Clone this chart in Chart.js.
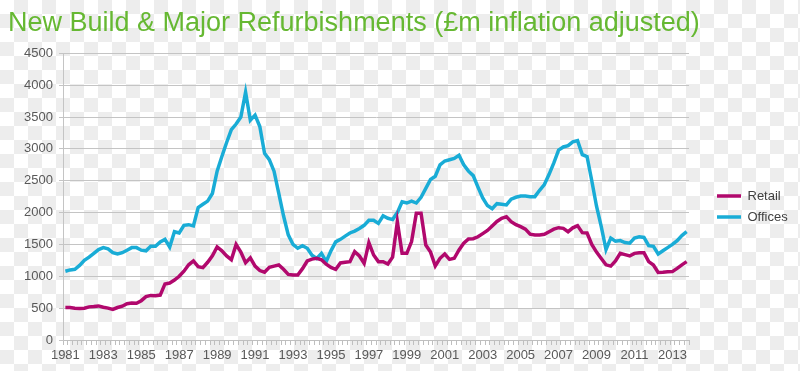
<!DOCTYPE html>
<html>
<head>
<meta charset="utf-8">
<script src="https://cdn.jsdelivr.net/npm/chart.js@4"></script>
<style>
  html, body { margin: 0; padding: 0; background: #ffffff; }
  #wrap {
    position: relative; width: 800px; height: 371px;
    background-color: #ffffff;
    background-image:
      linear-gradient(45deg, #ededed 25%, transparent 25%),
      linear-gradient(-45deg, #ededed 25%, transparent 25%),
      linear-gradient(45deg, transparent 75%, #ededed 75%),
      linear-gradient(-45deg, transparent 75%, #ededed 75%);
    background-size: 28px 28px;
    background-position: 0 0, 0 14px, 14px -14px, -14px 0;
  }
</style>
</head>
<body>
<div id="wrap"><canvas id="chart"></canvas></div>
<script>
// quarterly values, 1981 Q1 .. 2013 Q4
const firstYear = 1981;
const lastYear = 2013;
const tickYears = ['1981', '1983', '1985', '1987', '1989', '1991', '1993', '1995', '1997',
    '1999', '2001', '2003', '2005', '2007', '2009', '2011', '2013'];

const retail = [
    510, 510, 500, 495, 500, 520, 525, 535, 515, 500,
    480, 510, 530, 570, 580, 576, 617, 680, 700, 695,
    705, 880, 895, 940, 1000, 1080, 1180, 1240, 1150, 1136,
    1220, 1320, 1460, 1400, 1320, 1260, 1500, 1380, 1214, 1290,
    1160, 1090, 1065, 1140, 1160, 1177, 1110, 1030, 1020, 1020,
    1120, 1240, 1270, 1282, 1260, 1190, 1140, 1109, 1210, 1220,
    1230, 1387, 1319, 1204, 1528, 1334, 1230, 1230, 1193, 1300,
    1858, 1360, 1360, 1544, 1988, 1988, 1491, 1380, 1162, 1282,
    1350, 1266, 1282, 1413, 1518, 1586, 1590, 1620, 1670, 1720,
    1790, 1860, 1910, 1936, 1858, 1810, 1780, 1740, 1660, 1648,
    1648, 1660, 1700, 1740, 1763, 1753, 1700, 1760, 1795, 1685,
    1680, 1500, 1380, 1280, 1180, 1160, 1240, 1360, 1340, 1319,
    1360, 1371, 1371, 1230, 1177, 1060, 1062, 1070, 1073, 1125,
    1180, 1230
];
const offices = [
    1080, 1100, 1110, 1170, 1250, 1300, 1360, 1420, 1450, 1430,
    1370, 1350, 1370, 1410, 1450, 1450, 1410, 1400, 1470, 1470,
    1540, 1580, 1460, 1700, 1680, 1800, 1810, 1790, 2080, 2130,
    2180, 2300, 2650, 2880, 3100, 3300, 3390, 3500, 3890, 3450,
    3530, 3350, 2930, 2830, 2650, 2300, 1950, 1650, 1500, 1440,
    1480, 1440, 1330, 1280, 1360, 1230, 1400, 1540, 1580, 1630,
    1680, 1710, 1750, 1800, 1880, 1880, 1830, 1950, 1910, 1890,
    2000, 2170, 2150, 2180, 2150, 2240, 2380, 2520, 2570, 2750,
    2810, 2830, 2850, 2900, 2750, 2650, 2580, 2400, 2230, 2110,
    2060, 2140, 2130, 2120, 2210, 2240, 2260, 2260, 2250, 2250,
    2350, 2440, 2600, 2780, 2980, 3030, 3050, 3110, 3130, 2910,
    2880, 2500, 2100, 1780, 1420, 1600, 1550, 1560, 1530, 1520,
    1600, 1620, 1610, 1480, 1470, 1350, 1400, 1450, 1500, 1560,
    1640, 1700
];

const quarters = [];
for (let y = firstYear; y <= lastYear; y++) {
    for (let q = 1; q <= 4; q++) quarters.push(y + ' Q' + q);
}

// legend sits further right than chart.js would put it
const legendPlace = {
    id: 'legendPlace',
    afterInit(chart) {
        const lg = chart.legend;
        const fit = lg.fit.bind(lg);
        lg.fit = function () { fit(); this.width = 111; };
    },
    afterLayout(chart) {
        const lg = chart.legend;
        lg.left += 20; lg.right += 20;
        lg.top += 21; lg.bottom += 21;
    }
};

const ctx = document.getElementById('chart').getContext('2d');
new Chart(ctx, {
    type: 'line',
    data: {
        labels: quarters,
        datasets: [
            {
                label: 'Retail',
                data: retail,
                borderColor: '#b1086d',
                backgroundColor: '#b1086d',
                borderWidth: 3.5,
                pointRadius: 0,
                tension: 0
            },
            {
                label: 'Offices',
                data: offices,
                borderColor: '#19acd6',
                backgroundColor: '#19acd6',
                borderWidth: 3.5,
                pointRadius: 0,
                tension: 0
            }
        ]
    },
    plugins: [legendPlace],
    options: {
        responsive: true,
        maintainAspectRatio: false,
        animation: false,
        layout: { padding: { left: 8, right: 0, top: 0, bottom: 0 } },
        plugins: {
            title: {
                display: true,
                text: 'New Build & Major Refurbishments (£m inflation adjusted)',
                align: 'start',
                color: '#66b832',
                font: { family: '"Liberation Sans", Arial, sans-serif', size: 27, weight: 'normal' },
                padding: { top: 7, bottom: 13.9 }
            },
            legend: {
                position: 'right',
                labels: {
                    usePointStyle: true,
                    pointStyle: 'line',
                    pointStyleWidth: 24,
                    padding: 8,
                    color: '#404040',
                    font: { family: '"Liberation Sans", Arial, sans-serif', size: 13 }
                }
            },
            tooltip: { enabled: false }
        },
        scales: {
            x: {
                offset: true,
                afterFit(scale) { scale.height = 31; },
                grid: {
                    offset: true,
                    drawOnChartArea: false,
                    tickLength: 5,
                    color: '#bfbfbf'
                },
                border: { color: '#bfbfbf' },
                ticks: {
                    autoSkip: false,
                    maxRotation: 0,
                    padding: 3,
                    color: '#595959',
                    font: { family: '"Liberation Sans", Arial, sans-serif', size: 13 },
                    callback: (v, i) => (i % 8 === 0 ? tickYears[i / 8] : '')
                }
            },
            y: {
                min: 0,
                max: 4500,
                afterFit(scale) { scale.width = 55; },
                grid: { color: '#c4c4c4', tickLength: 4 },
                border: { color: '#c4c4c4' },
                ticks: {
                    stepSize: 500,
                    padding: 6,
                    color: '#595959',
                    font: { family: '"Liberation Sans", Arial, sans-serif', size: 13 },
                    callback: (v) => String(v)
                }
            }
        }
    }
});
</script>
</body>
</html>
